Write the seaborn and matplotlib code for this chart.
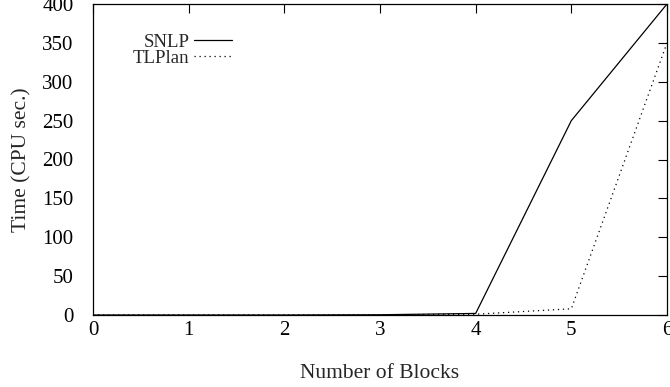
import matplotlib
matplotlib.use("Agg")
import matplotlib.pyplot as plt
import seaborn as sns
import pandas as pd

blocks = [0, 1, 2, 3, 4, 5, 6]
snlp = [0, 0, 0, 0.3, 2, 250, 400]
tlplan = [0, 0, 0, 0.2, 1, 8, 350]

sns.set_style("white")
plt.rcParams['font.family'] = ['Liberation Serif', 'DejaVu Serif']

df = pd.DataFrame({"blocks": blocks * 2,
                   "time": snlp + tlplan,
                   "planner": ["SNLP"] * len(blocks) + ["TLPlan"] * len(blocks)})

fig = plt.figure(figsize=(6.7, 3.87), dpi=100)
ax = fig.add_axes([93/670, 72/387, (667-93)/670, (315-4)/387])

sns.lineplot(data=df, x="blocks", y="time", hue="planner", style="planner",
             palette={"SNLP": "black", "TLPlan": "black"},
             dashes={"SNLP": "", "TLPlan": (1, 3)}, linewidth=0.9, ax=ax)

ax.set_xlim(0, 6)
ax.set_ylim(0, 400)
ax.set_xticks(range(0, 7))
ax.set_yticks(range(0, 401, 50))
ax.set_xlabel("Number of Blocks", fontsize=15.5)
ax.set_ylabel("Time (CPU sec.)", fontsize=15.5)
ax.xaxis.set_label_coords(0.5, -0.158)
ax.yaxis.set_label_coords(-0.107, 0.5)
ax.tick_params(direction="in", length=6.5, width=0.8, top=True, right=True,
               labelsize=15, colors="black")
ax.tick_params(axis="x", pad=4)
ax.tick_params(axis="y", pad=14)
for s in ax.spines.values():
    s.set_visible(True)
    s.set_color("black")
    s.set_linewidth(0.9)

leg = ax.legend(frameon=False, markerfirst=False, loc="upper right",
                bbox_to_anchor=(0.242, 0.905), borderaxespad=0, borderpad=0,
                fontsize=13.5, handlelength=2.0, handletextpad=0.25,
                labelspacing=-0.05, title=None)
fig.savefig("out.png", dpi=100)
